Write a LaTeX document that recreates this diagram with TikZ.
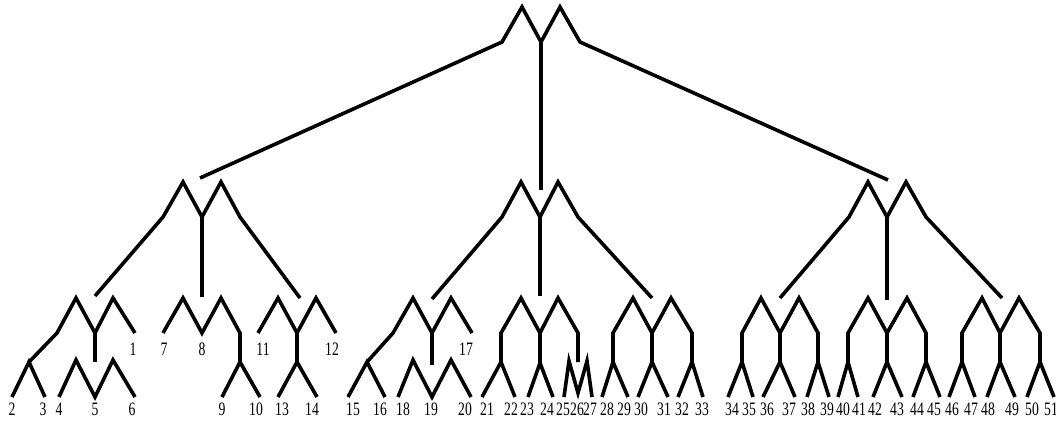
\documentclass[tikz,border=0pt]{standalone}
\usepackage{fontspec}
\setmainfont{Liberation Serif}
\begin{document}
\begin{tikzpicture}[x=1pt,y=-1pt,
  stroke/.style={line width=3.6pt,line join=miter,line cap=butt,black},
  lbl/.style={inner sep=0pt,font=\fontsize{19}{20}\selectfont}]
\useasboundingbox (0,0) rectangle (1056,421);
% ---- level 1
\draw[stroke] (200,178) -- (502,42) -- (522,7) -- (541,42) -- (560,7) -- (580,42) -- (888,180);
\draw[stroke] (541,42) -- (541,190);
% ---- level 2 left
\draw[stroke] (95,296) -- (163,217) -- (183,182) -- (202,217) -- (221,182) -- (240,217) -- (300,298);
\draw[stroke] (202,217) -- (202,297);
% ---- level 2 middle
\draw[stroke] (432,299) -- (502,217) -- (521,182) -- (540,217) -- (558,182) -- (578,217) -- (652,298);
\draw[stroke] (540,217) -- (540,296);
% ---- level 2 right
\draw[stroke] (780,298) -- (849,217) -- (868,182) -- (887,217) -- (906,182) -- (926,217) -- (1002,298);
\draw[stroke] (887,217) -- (887,300);
% ---- group A
\draw[stroke] (135,333) -- (113,298) -- (95,333) -- (76,298) -- (57,333) -- (29,362);
\draw[stroke] (95,333) -- (95,362);
\draw[stroke] (12,397) -- (29,362) -- (45,397);
\draw[stroke] (59,397) -- (76,360) -- (95,397) -- (113,360) -- (135,397);
% ---- group B
\draw[stroke] (163,333) -- (183,298) -- (202,333) -- (221,298) -- (240,333) -- (240,362);
\draw[stroke] (222,397) -- (240,362) -- (260,397);
\draw[stroke] (258,333) -- (278,298) -- (297,333) -- (316,298) -- (336,333);
\draw[stroke] (297,333) -- (297,362);
\draw[stroke] (278,397) -- (297,362) -- (317,397);
% ---- group C
\draw[stroke] (472,333) -- (451,298) -- (432,333) -- (413,298) -- (393,333) -- (367,362);
\draw[stroke] (432,333) -- (432,365);
\draw[stroke] (348,397) -- (367,362) -- (385,397);
\draw[stroke] (398,397) -- (413,360) -- (432,397) -- (451,360) -- (471,397);
% ---- group D1
\draw[stroke] (501,362) -- (501,333) -- (521,298) -- (540,333) -- (558,298) -- (578,333) -- (578,362);
\draw[stroke] (540,333) -- (540,363);
\draw[stroke] (482,397) -- (501,362) -- (515,397);
\draw[stroke] (528,397) -- (540,363) -- (553,397);
\draw[stroke] (564,397) -- (569,361) -- (578,393) -- (587,361) -- (592,397);
% ---- group D2
\draw[stroke] (613,362) -- (613,333) -- (633,298) -- (652,333) -- (671,298) -- (692,333) -- (692,362);
\draw[stroke] (652,333) -- (652,362);
\draw[stroke] (602,397) -- (613,362) -- (628,397);
\draw[stroke] (638,397) -- (652,362) -- (668,397);
\draw[stroke] (678,397) -- (692,362) -- (703,397);
% ---- group E1
\draw[stroke] (742,362) -- (742,333) -- (761,298) -- (780,333) -- (799,298) -- (818,333) -- (818,362);
\draw[stroke] (780,333) -- (780,362);
\draw[stroke] (728,397) -- (742,362) -- (753,397);
\draw[stroke] (763,397) -- (780,362) -- (795,397);
\draw[stroke] (807,397) -- (818,362) -- (829,397);
% ---- group E2
\draw[stroke] (848,362) -- (848,333) -- (868,298) -- (887,333) -- (907,298) -- (926,333) -- (926,362);
\draw[stroke] (887,333) -- (887,362);
\draw[stroke] (838,397) -- (848,362) -- (858,397);
\draw[stroke] (873,397) -- (887,362) -- (902,397);
\draw[stroke] (913,397) -- (926,362) -- (940,397);
% ---- group E3
\draw[stroke] (962,362) -- (962,333) -- (982,298) -- (1000,333) -- (1019,298) -- (1040,333) -- (1040,362);
\draw[stroke] (1000,333) -- (1000,362);
\draw[stroke] (949,397) -- (962,362) -- (975,397);
\draw[stroke] (987,397) -- (1000,362) -- (1015,397);
\draw[stroke] (1027,397) -- (1040,362) -- (1054,397);
% ---- labels
\foreach \n/\x in {1/133,7/164,8/202,11/263,12/332,17/466}
  \node[lbl] (l\n) at (\x,349) {\scalebox{0.72}[1]{\n}};
\foreach \n/\x in {2/12,3/43,4/59,5/95,6/132,9/222,10/256,13/282,14/312,
  15/353,16/380,18/403,19/431,20/465,21/487,22/511,23/527,24/547,25/563,26/577,27/590,
  28/607,29/624,30/641,31/664,32/682,33/702,34/732,35/749,36/767,37/789,38/808,39/827,
  40/843,41/859,42/875,43/897,44/917,45/934,46/952,47/971,48/988,49/1012,50/1032,51/1051}
  \node[lbl] (l\n) at (\x,409) {\scalebox{0.72}[1]{\n}};
\end{tikzpicture}
\end{document}
